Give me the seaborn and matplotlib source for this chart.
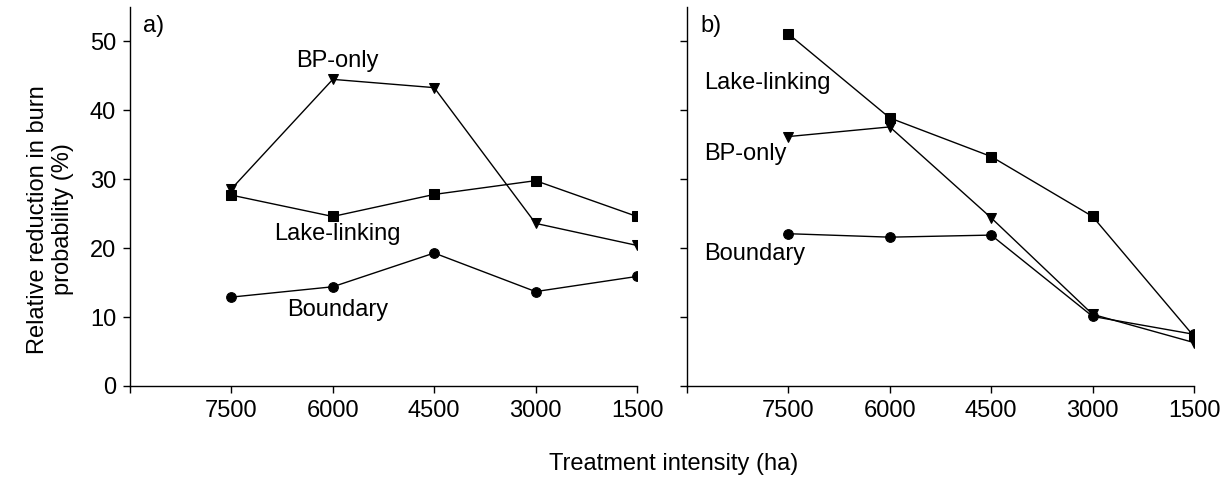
import pandas as pd
import seaborn as sns
import matplotlib.pyplot as plt

# Treatment intensity categories (ha), plotted at slots 1..5
intensity = ['7500', '6000', '4500', '3000', '1500']

# a) relative reduction in burn probability (%)
a_bp_only = [28.6, 44.5, 43.3, 23.6, 20.4]
a_lake_linking = [27.7, 24.6, 27.8, 29.8, 24.6]
a_boundary = [12.9, 14.4, 19.3, 13.7, 15.9]

# b)
b_bp_only = [36.2, 37.6, 24.4, 10.4, 6.3]
b_lake_linking = [51.1, 38.9, 33.3, 24.6, 7.2]
b_boundary = [22.1, 21.6, 21.9, 10.1, 7.5]

sns.set_theme(style='ticks')
plt.rcParams['font.family'] = ['Liberation Sans', 'DejaVu Sans']
plt.rcParams['text.color'] = 'black'
plt.rcParams['xtick.color'] = 'black'
plt.rcParams['ytick.color'] = 'black'
FS = 17


def long_frame(bp, lake, bound):
    rows = []
    for name, vals in [('BP-only', bp), ('Lake-linking', lake), ('Boundary', bound)]:
        for i, v in enumerate(vals):
            rows.append({'pos': i + 1, 'value': v, 'series': name})
    return pd.DataFrame(rows)


markers = {'BP-only': 'v', 'Lake-linking': 's', 'Boundary': 'o'}

fig = plt.figure(figsize=(12.25, 4.87), dpi=100)
ax_a = fig.add_axes([0.1061, 0.2074, 0.4139, 0.7782])
ax_b = fig.add_axes([0.5608, 0.2074, 0.4139, 0.7782])

panels = [
    (ax_a, long_frame(a_bp_only, a_lake_linking, a_boundary), 'a)'),
    (ax_b, long_frame(b_bp_only, b_lake_linking, b_boundary), 'b)'),
]

for ax, df, tag in panels:
    sns.lineplot(data=df, x='pos', y='value', style='series', markers=markers,
                 dashes=False, color='black', linewidth=1, markersize=7,
                 markeredgecolor='black', legend=False, ax=ax)
    ax.set_xlim(0, 5)
    ax.set_ylim(0, 55)
    ax.set_xticks(range(6))
    ax.set_xticklabels([''] + intensity)
    ax.set_yticks(range(0, 51, 10))
    ax.set_xlabel('')
    ax.set_ylabel('')
    ax.tick_params(direction='out', length=5, width=1, colors='black',
                   labelsize=FS, pad=5)
    for side in ['top', 'right']:
        ax.spines[side].set_visible(False)
    for side in ['left', 'bottom']:
        ax.spines[side].set_color('black')
        ax.spines[side].set_linewidth(1)
    ax.text(0.13, 52.3, tag, fontsize=FS, ha='left', va='center')

ax_b.set_yticklabels([])

# series labels
ax_a.text(2.05, 47.2, 'BP-only', fontsize=FS, ha='center', va='center')
ax_a.text(2.05, 22, 'Lake-linking', fontsize=FS, ha='center', va='center')
ax_a.text(2.05, 11.1, 'Boundary', fontsize=FS, ha='center', va='center')
ax_b.text(0.17, 44, 'Lake-linking', fontsize=FS, ha='left', va='center')
ax_b.text(0.17, 33.7, 'BP-only', fontsize=FS, ha='left', va='center')
ax_b.text(0.17, 19.1, 'Boundary', fontsize=FS, ha='left', va='center')

fig.text(0.55, 0.048, 'Treatment intensity (ha)', fontsize=FS, ha='center', va='center')
fig.text(0.041, 0.55, 'Relative reduction in burn\nprobability (%)', fontsize=FS,
         ha='center', va='center', rotation=90)

fig.savefig('out.png', dpi=100)
